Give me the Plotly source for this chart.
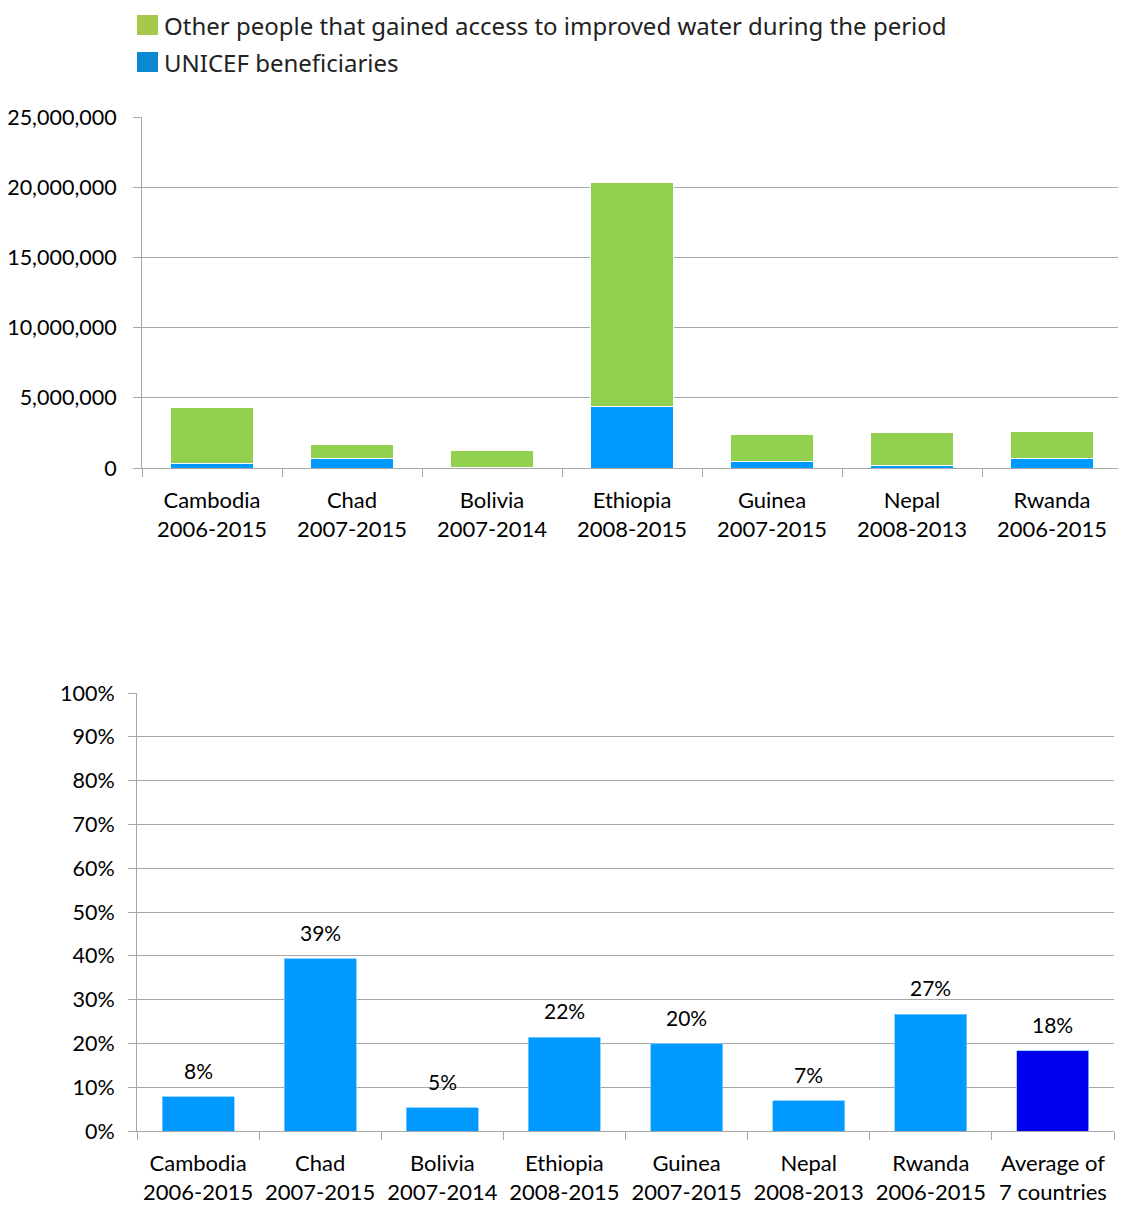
import plotly.graph_objects as go

categories = ["Cambodia<br>2006-2015", "Chad<br>2007-2015", "Bolivia<br>2007-2014",
              "Ethiopia<br>2008-2015", "Guinea<br>2007-2015", "Nepal<br>2008-2013",
              "Rwanda<br>2006-2015"]
unicef_beneficiaries = [340000, 650000, 63000, 4400000, 470000, 180000, 700000]
other_people = [3960000, 1010000, 1200000, 15900000, 1900000, 2360000, 1890000]

share_categories = categories + ["Average of<br>7 countries"]
share_values = [7.8, 39.3, 5.3, 21.4, 19.9, 6.9, 26.7, 18.3]
share_labels = ["8%", "39%", "5%", "22%", "20%", "7%", "27%", "18%"]

legend_labels = ["Other people that gained access to improved water during the period",
                 "UNICEF beneficiaries"]

GREEN = "#92d050"
BLUE = "#0099ff"
DARK = "#0000ee"
LEG_GREEN = "#a6c94b"
LEG_BLUE = "#0a88d2"
GRID = "#a6a6a6"
FONT = "Lato"

W, H = 1118, 1197  # page body has an 8px margin

fig = go.Figure()
fig.add_trace(go.Bar(x=categories, y=unicef_beneficiaries, name=legend_labels[1],
                     marker=dict(color=BLUE, line=dict(color="white", width=1)),
                     showlegend=False, xaxis="x", yaxis="y"))
fig.add_trace(go.Bar(x=categories, y=other_people, name=legend_labels[0],
                     marker=dict(color=GREEN, line=dict(color="white", width=1)),
                     showlegend=False, xaxis="x", yaxis="y"))
fig.add_trace(go.Bar(x=share_categories, y=share_values,
                     marker=dict(color=[BLUE] * 7 + [DARK], line=dict(color="#7fccff", width=0.8)),
                     showlegend=False, xaxis="x2", yaxis="y2"))

# data labels above the share bars
for c, v, t in zip(share_categories, share_values, share_labels):
    fig.add_annotation(x=c, y=v, xref="x2", yref="y2", text=t, showarrow=False,
                       yanchor="bottom", yshift=12,
                       font=dict(family=FONT, size=21, color="#000000"))

# manual legend (square swatches)
for i, (lab, col) in enumerate(zip(legend_labels, [LEG_GREEN, LEG_BLUE])):
    y0 = 7 + 37 * i
    fig.add_shape(type="rect", xref="paper", yref="paper",
                  x0=129 / W, x1=150 / W,
                  y0=1 - (y0 + 20) / H, y1=1 - y0 / H,
                  fillcolor=col, line=dict(width=0))
    fig.add_annotation(xref="paper", yref="paper", x=155 / W, y=1 - (y0 - 7) / H,
                       xanchor="left", yanchor="top", borderpad=0, text=lab, showarrow=False,
                       font=dict(family="Noto Sans", size=24, color="#222222"))

xaxis_common = dict(showline=True, linecolor=GRID, linewidth=1, ticks="outside",
                    tickcolor=GRID, ticklen=8, tickson="boundaries", ticklabelstandoff=13,
                    tickfont=dict(family=FONT, size=22, color="#000000"))
yaxis_common = dict(showline=True, linecolor=GRID, linewidth=1, ticks="outside",
                    tickcolor=GRID, ticklen=8,
                    showgrid=True, gridcolor=GRID, gridwidth=1, zeroline=False,
                    tickfont=dict(family=FONT, size=21.5, color="#000000"))

fig.update_layout(
    width=W, height=H,
    margin=dict(l=0, r=0, t=0, b=0, autoexpand=False),
    paper_bgcolor="white", plot_bgcolor="white",
    barmode="stack", bargap=0.41,
    font=dict(family=FONT, color="#000000"),
    showlegend=False,
    xaxis=dict(domain=[134 / W, 1114 / W], anchor="y", **xaxis_common),
    yaxis=dict(domain=[1 - 460 / H, 1 - 109 / H], anchor="x", range=[0, 25000000],
               dtick=5000000, tickformat=",", ticklabelstandoff=12, **yaxis_common),
    xaxis2=dict(domain=[129 / W, 1106 / W], anchor="y2", **xaxis_common),
    yaxis2=dict(domain=[1 - 1123 / H, 1 - 685 / H], anchor="x2", range=[0, 100], dtick=10,
                ticksuffix="%", ticklabelstandoff=9, **yaxis_common),
)

fig.write_html("out.html")
